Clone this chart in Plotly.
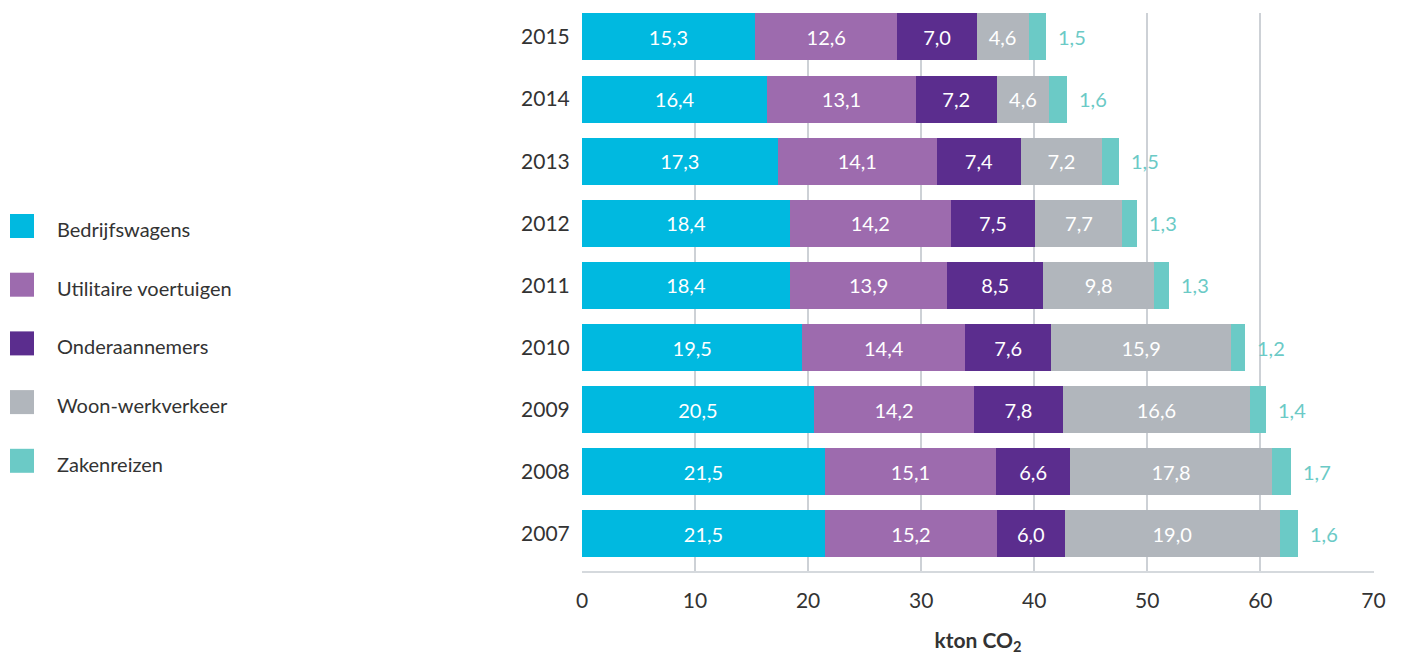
import plotly.graph_objects as go

years = ["2007", "2008", "2009", "2010", "2011", "2012", "2013", "2014", "2015"]
series_names = ["Bedrijfswagens", "Utilitaire voertuigen", "Onderaannemers", "Woon-werkverkeer", "Zakenreizen"]
bedrijfswagens = [21.5, 21.5, 20.5, 19.5, 18.4, 18.4, 17.3, 16.4, 15.3]
utilitaire = [15.2, 15.1, 14.2, 14.4, 13.9, 14.2, 14.1, 13.1, 12.6]
onderaannemers = [6.0, 6.6, 7.8, 7.6, 8.5, 7.5, 7.4, 7.2, 7.0]
woon_werk = [19.0, 17.8, 16.6, 15.9, 9.8, 7.7, 7.2, 4.6, 4.6]
zakenreizen = [1.6, 1.7, 1.4, 1.2, 1.3, 1.3, 1.5, 1.6, 1.5]
x_ticks = [0, 10, 20, 30, 40, 50, 60, 70]

colors = ["#00b9e0", "#9d6bae", "#5b2d8e", "#b1b6bc", "#6bcac6"]
values = [bedrijfswagens, utilitaire, onderaannemers, woon_werk, zakenreizen]

FONT = "Lato"
OFF = 8  # page body margin offset
W, H = 1402, 660
# plot area in screenshot pixels: x 582..1374, y 13..571
L = 582 - OFF
T = 13 - OFF
R = W - (1374 - OFF)
B = H - (571 - OFF)
PW, PH = W - L - R, H - T - B

def px_x(px):
    return (px - OFF - L) / PW

def px_y(py):
    return (H - B - (py - OFF)) / PH

fig = go.Figure()
for i, (name, vals, col) in enumerate(zip(series_names, values, colors)):
    last = i == len(series_names) - 1
    bar_kwargs = dict(
        y=years, x=vals, orientation="h", name=name,
        marker=dict(color=col, line=dict(width=0)),
        showlegend=False, hoverinfo="x+name",
    )
    if last:
        bar_kwargs["textposition"] = "none"
    else:
        bar_kwargs.update(
            texttemplate="%{x:.1f}", textposition="inside", insidetextanchor="middle",
            textfont=dict(family=FONT, size=20, color="white"),
        )
    fig.add_trace(go.Bar(**bar_kwargs))

# outside labels for last series
totals = [sum(v[j] for v in values) for j in range(len(years))]
annotations = []
for j, (tot, z) in enumerate(zip(totals, zakenreizen)):
    annotations.append(dict(
        x=tot, y=j, xref="x", yref="y", text=f"{z:.1f}".replace(".", ","),
        showarrow=False, xanchor="left", yanchor="middle", xshift=10,
        font=dict(family=FONT, size=20, color=colors[-1]),
    ))

# custom legend
shapes = []
leg_y0 = 226
leg_dy = 58.7
for i, (name, col) in enumerate(zip(series_names, colors)):
    cy = leg_y0 + i * leg_dy
    shapes.append(dict(type="rect", xref="paper", yref="paper",
                       x0=px_x(10), x1=px_x(34), y0=px_y(cy + 12), y1=px_y(cy - 12),
                       fillcolor=col, line=dict(width=0)))
    annotations.append(dict(x=px_x(55), y=px_y(cy + 3), xref="paper", yref="paper",
                            text=name, showarrow=False, xanchor="left", yanchor="middle",
                            font=dict(family=FONT, size=20, color="#333333")))

fig.update_layout(
    width=W, height=H,
    barmode="stack", bargap=0.243,
    separators=",.",
    plot_bgcolor="white", paper_bgcolor="white",
    margin=dict(l=L, r=R, t=T, b=B, pad=0, autoexpand=False),
    font=dict(family=FONT, color="#333333"),
    shapes=shapes, annotations=annotations,
    showlegend=False,
    xaxis=dict(
        range=[0, 70.05], tickvals=x_ticks, ticktext=[str(t) for t in x_ticks],
        showgrid=True, gridcolor="#cdd1d6", gridwidth=1.5, zeroline=False,
        showline=True, linecolor="#d5d9dd", linewidth=2,
        ticks="outside", ticklen=10, tickcolor="rgba(0,0,0,0)",
        tickfont=dict(family=FONT, size=21, color="#333333"),
        title=dict(text="<b>kton CO<sub>2</sub></b>", standoff=22,
                   font=dict(family=FONT, size=21, color="#333333")),
        automargin=False,
    ),
    yaxis=dict(
        type="category", categoryorder="array", categoryarray=years,
        range=[-0.596, 8.386],
        showgrid=False, zeroline=False, showline=False,
        ticks="outside", ticklen=7, tickcolor="rgba(0,0,0,0)",
        tickfont=dict(family=FONT, size=21, color="#333333"),
        automargin=False,
    ),
)

fig.write_html("out.html")
